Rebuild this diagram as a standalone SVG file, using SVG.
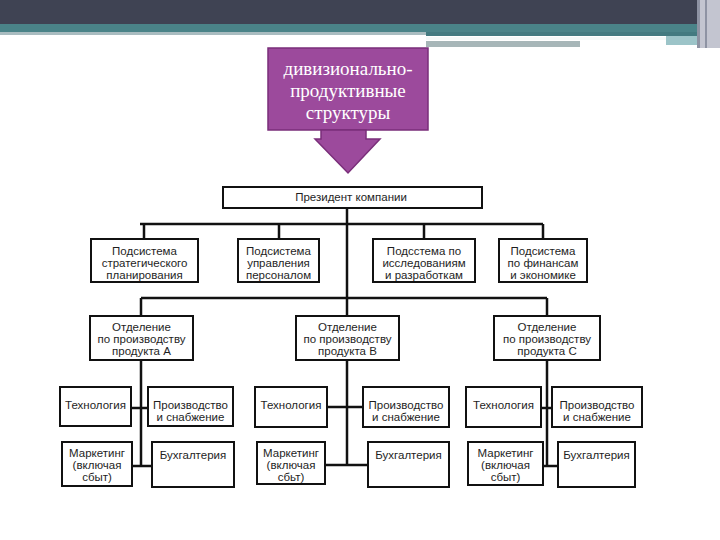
<svg xmlns="http://www.w3.org/2000/svg" width="720" height="540" viewBox="0 0 720 540">
<style>
.box{fill:#ffffff;stroke:#111;stroke-width:2}
.t{font-family:"Liberation Sans",Arial,sans-serif;font-size:11.5px;fill:#1e1e1e;text-anchor:middle}
.c{stroke:#111;stroke-width:2.5;fill:none}
.ct{font-family:"Liberation Serif","Times New Roman","DejaVu Serif",serif;font-size:19px;fill:#ffffff;text-anchor:middle}
</style>
<rect x="0" y="0" width="720" height="540" fill="#ffffff"/>
<!-- header -->
<rect x="0" y="0" width="720" height="24" fill="#3f4353"/>
<rect x="0" y="24" width="720" height="9" fill="#4a8388"/>
<rect x="0" y="32" width="426" height="3" fill="#a9bcc0"/>
<rect x="426" y="32" width="272" height="4" fill="#437a80"/>
<rect x="426" y="37" width="240" height="3" fill="#f4f8f8"/>
<rect x="426" y="41" width="154" height="6" fill="#a7b6b8"/>
<rect x="666" y="36" width="32" height="9" fill="#9cc4c8"/>
<rect x="697" y="0" width="23" height="48" fill="#c3c5d0"/>
<rect x="697" y="0" width="3" height="48" fill="#8e93a3"/>
<rect x="705" y="0" width="2" height="48" fill="#8e93a3"/>
<!-- callout -->
<g id="callout">
<rect x="268" y="48" width="160" height="82" fill="#9c4a9c" stroke="#7a2e7a" stroke-width="1.5"/>
<polygon points="321,130 366,130 366,139 380,139 348,173 315,139 321,139" fill="#9c4a9c" stroke="#7a2e7a" stroke-width="1.5"/>
<text class="ct" x="348" y="75">дивизионально-</text>
<text class="ct" x="348" y="97">продуктивные</text>
<text class="ct" x="348" y="119">структуры</text>
</g>
<!-- connectors -->
<g id="connectors">
<path class="c" d="M347,208 V316"/>
<path class="c" d="M140,224 H543 M144,224 V239 M279,224 V239 M424,224 V239 M543,224 V239"/>
<path class="c" d="M141,298 H547 M141,298 V316 M547,298 V316"/>
<path class="c" d="M141,360 V466 M131,408 H148 M132,466 H152"/>
<path class="c" d="M347,360 V465 M327,407 H363 M325,465 H368"/>
<path class="c" d="M547,360 V466 M541,408 H552 M543,466 H558"/>
</g>
<!-- president -->
<g id="president">
<rect class="box" x="223" y="187" width="259" height="21"/>
<text class="t" x="351" y="201">Президент компании</text>
</g>
<!-- subsystems -->
<g id="sub1">
<rect class="box" x="91" y="239" width="107" height="43"/>
<text class="t" x="144.5" y="255">Подсистема</text>
<text class="t" x="144.5" y="267">стратегического</text>
<text class="t" x="144.5" y="279">планирования</text>
</g>
<g id="sub2">
<rect class="box" x="238" y="239" width="81" height="43"/>
<text class="t" x="278.5" y="255">Подсистема</text>
<text class="t" x="278.5" y="267">управления</text>
<text class="t" x="278.5" y="279">персоналом</text>
</g>
<g id="sub3">
<rect class="box" x="373" y="239" width="102" height="43"/>
<text class="t" x="424" y="255">Подсстема по</text>
<text class="t" x="424" y="267">исследованиям</text>
<text class="t" x="424" y="279">и разработкам</text>
</g>
<g id="sub4">
<rect class="box" x="499" y="239" width="88" height="43"/>
<text class="t" x="543" y="255">Подсистема</text>
<text class="t" x="543" y="267">по финансам</text>
<text class="t" x="543" y="279">и экономике</text>
</g>
<!-- divisions -->
<g id="divA">
<rect class="box" x="90" y="316" width="103" height="44"/>
<text class="t" x="141.5" y="331">Отделение</text>
<text class="t" x="141.5" y="343">по производству</text>
<text class="t" x="141.5" y="355">продукта А</text>
</g>
<g id="divB">
<rect class="box" x="296" y="316" width="103" height="44"/>
<text class="t" x="347.5" y="331">Отделение</text>
<text class="t" x="347.5" y="343">по производству</text>
<text class="t" x="347.5" y="355">продукта В</text>
</g>
<g id="divC">
<rect class="box" x="494" y="316" width="106" height="44"/>
<text class="t" x="547" y="331">Отделение</text>
<text class="t" x="547" y="343">по производству</text>
<text class="t" x="547" y="355">продукта С</text>
</g>
<!-- A units -->
<g id="techA"><rect class="box" x="60" y="387" width="71" height="39"/><text class="t" x="95.5" y="409">Технология</text></g>
<g id="prodA"><rect class="box" x="148" y="387" width="85" height="39"/><text class="t" x="190.5" y="409">Производство</text><text class="t" x="190.5" y="421">и снабжение</text></g>
<g id="mktA"><rect class="box" x="62" y="442" width="70" height="44"/><text class="t" x="97" y="457">Маркетинг</text><text class="t" x="97" y="469">(включая</text><text class="t" x="97" y="481">сбыт)</text></g>
<g id="accA"><rect class="box" x="152" y="442" width="82" height="45"/><text class="t" x="193" y="459">Бухгалтерия</text></g>
<!-- B units -->
<g id="techB"><rect class="box" x="255" y="387" width="72" height="40"/><text class="t" x="291" y="409">Технология</text></g>
<g id="prodB"><rect class="box" x="363" y="387" width="86" height="40"/><text class="t" x="406" y="409">Производство</text><text class="t" x="406" y="421">и снабжение</text></g>
<g id="mktB"><rect class="box" x="257" y="442" width="68" height="42"/><text class="t" x="291" y="457">Маркетинг</text><text class="t" x="291" y="469">(включая</text><text class="t" x="291" y="481">сбьт)</text></g>
<g id="accB"><rect class="box" x="368" y="442" width="81" height="45"/><text class="t" x="408.5" y="459">Бухгалтерия</text></g>
<!-- C units -->
<g id="techC"><rect class="box" x="466" y="387" width="75" height="40"/><text class="t" x="503.5" y="409">Технология</text></g>
<g id="prodC"><rect class="box" x="552" y="387" width="90" height="40"/><text class="t" x="597" y="409">Производство</text><text class="t" x="597" y="421">и снабжение</text></g>
<g id="mktC"><rect class="box" x="468" y="442" width="75" height="43"/><text class="t" x="505.5" y="457">Маркетинг</text><text class="t" x="505.5" y="469">(включая</text><text class="t" x="505.5" y="481">сбыт)</text></g>
<g id="accC"><rect class="box" x="558" y="442" width="77" height="45"/><text class="t" x="596.5" y="459">Бухгалтерия</text></g>
</svg>
